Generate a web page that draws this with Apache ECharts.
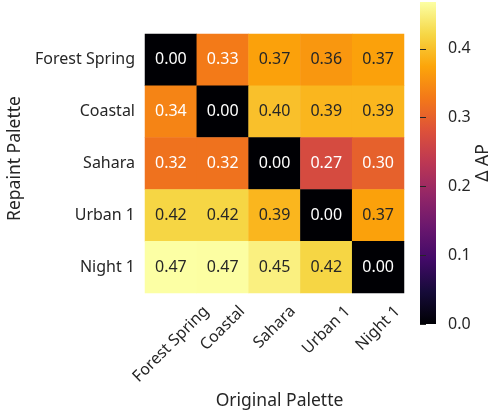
<!DOCTYPE html>
<html><head><meta charset="utf-8">
<script src="https://cdn.jsdelivr.net/npm/echarts@6/dist/echarts.min.js"></script>
<style>html,body{margin:0;padding:0;background:#fff}#c{width:490px;height:413px}</style>
</head><body><div id="c"></div>
<script>
const originalPalettes = ['Forest Spring', 'Coastal', 'Sahara', 'Urban 1', 'Night 1'];
const repaintPalettes = ['Forest Spring', 'Coastal', 'Sahara', 'Urban 1', 'Night 1'];
// rows = repaint palette, columns = original palette
const rowForestSpring = [0.00, 0.33, 0.37, 0.36, 0.37];
const rowCoastal      = [0.34, 0.00, 0.40, 0.39, 0.39];
const rowSahara       = [0.32, 0.32, 0.00, 0.27, 0.30];
const rowUrban1       = [0.42, 0.42, 0.39, 0.00, 0.37];
const rowNight1       = [0.468, 0.467, 0.45, 0.42, 0.00];
const colorbarTicks = [0.0, 0.1, 0.2, 0.3, 0.4];
const vMin = 0, vMax = 0.468;

const rows = [rowForestSpring, rowCoastal, rowSahara, rowUrban1, rowNight1];
const data = [];
rows.forEach((r, yi) => r.forEach((v, xi) => {
  data.push({value: [xi, yi, v], label: {color: v > 0.35 ? '#262626' : '#ffffff'}});
}));

const FONT = 'Noto Sans';
const TICK_FS = 16;
const TITLE_FS = 17.5;
const TXT = '#262626';
const inferno = ['#000004','#160b39','#420a68','#6a176e','#932667','#bc3754','#dd513a','#f37819','#fca50a','#f6d746','#fcffa4'];

// x tick labels: rotated 45deg, rotated bounding box centred on the column and top-aligned
const ctx = document.createElement('canvas').getContext('2d');
ctx.font = TICK_FS + 'px "' + FONT + '"';
const LABEL_TOP = 9;
const xAxes = originalPalettes.map((name, i) => {
  const L = ctx.measureText(name).width;
  const margin = LABEL_TOP + 0.3535 * (L + TICK_FS * 1.2);
  const ax = {
    type: 'category', gridIndex: 0, data: originalPalettes, position: 'bottom',
    axisLine: {show: false}, axisTick: {show: false}, splitLine: {show: false},
    axisLabel: {rotate: 45, align: 'center', verticalAlign: 'middle', fontSize: TICK_FS,
      color: TXT, margin: margin, fontFamily: FONT, interval: 0,
      formatter: (val, idx) => idx === i ? val : ''}
  };
  if (i === 0) {
    ax.name = 'Original Palette'; ax.nameLocation = 'middle'; ax.nameGap = 92;
    ax.nameTextStyle = {fontSize: TITLE_FS, color: TXT, fontFamily: FONT, padding: [0, 0, 0, 10]};
  }
  return ax;
});
xAxes.push({type: 'value', gridIndex: 1, show: false, min: 0, max: 1});

const stops = inferno.map((c, i) => ({offset: i / (inferno.length - 1), color: c}));
const chart = echarts.init(document.getElementById('c'));
chart.setOption({
  animation: false,
  textStyle: {fontFamily: FONT},
  grid: [
    {left: 145, top: 34, width: 259, height: 259, outerBoundsMode: 'none'},
    {left: 420, top: 2, width: 16, height: 322, outerBoundsMode: 'none', show: true, borderWidth: 0,
     backgroundColor: new echarts.graphic.LinearGradient(0, 1, 0, 0, stops)}
  ],
  xAxis: xAxes,
  yAxis: [
    {type: 'category', gridIndex: 0, data: repaintPalettes, inverse: true,
     axisLine: {show: false}, axisTick: {show: false}, splitLine: {show: false},
     axisLabel: {fontSize: TICK_FS, color: TXT, margin: 10, fontFamily: FONT, interval: 0},
     name: 'Repaint Palette', nameLocation: 'middle', nameGap: 113, nameRotate: 90,
     nameTextStyle: {fontSize: TITLE_FS, color: TXT, fontFamily: FONT, padding: [0, 0, 0, 10]}},
    {type: 'value', gridIndex: 1, position: 'right', min: vMin, max: vMax,
     axisLine: {show: false}, splitLine: {show: false},
     axisTick: {show: true, length: 6, lineStyle: {color: TXT}, customValues: colorbarTicks},
     axisLabel: {fontSize: TICK_FS, color: TXT, margin: 12, fontFamily: FONT,
       customValues: colorbarTicks, formatter: v => v.toFixed(1)},
     name: 'Δ AP', nameLocation: 'middle', nameGap: 34, nameRotate: 90,
     nameTextStyle: {fontSize: TITLE_FS, color: TXT, fontFamily: FONT}}
  ],
  visualMap: {
    type: 'continuous', min: vMin, max: vMax, seriesIndex: 0, show: false,
    inRange: {color: inferno}
  },
  series: [{
    type: 'heatmap', xAxisIndex: 0, yAxisIndex: 0, data: data,
    label: {show: true, fontSize: 16, fontFamily: FONT, formatter: p => p.value[2].toFixed(2)},
    itemStyle: {borderWidth: 0}
  }]
});
</script></body></html>
